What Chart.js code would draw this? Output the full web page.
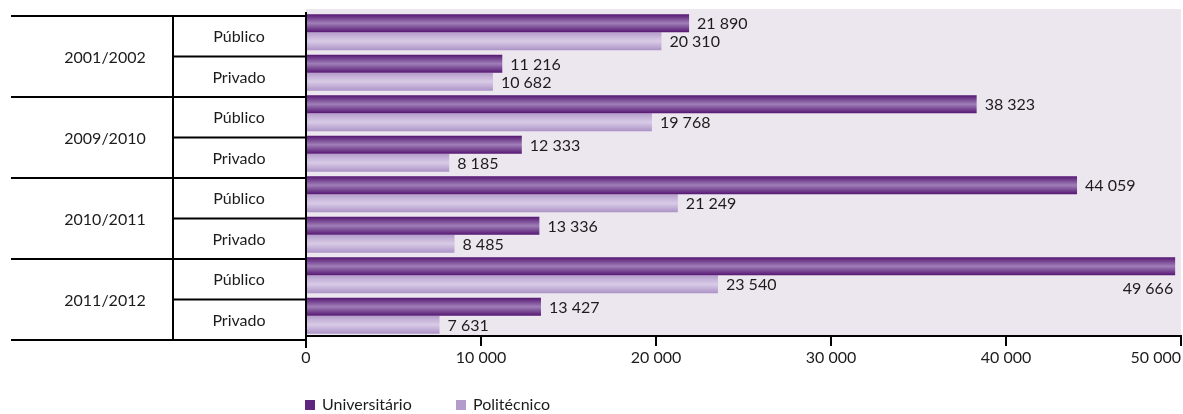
<!DOCTYPE html>
<html>
<head>
<meta charset="utf-8">
<script src="https://cdn.jsdelivr.net/npm/chart.js@4"></script>
<style>
	html, body { margin: 0; padding: 0; background: #fff; }
	#wrap { width: 1183px; height: 414px; }
</style>
</head>
<body>
<div id="wrap"><canvas id="chart" width="1183" height="414"></canvas></div>
<script>
const anos = ['2001/2002', '2009/2010', '2010/2011', '2011/2012'];
const setores = ['Público', 'Privado'];
const universitario = [21890, 11216, 38323, 12333, 44059, 13336, 49666, 13427];
const politecnico = [20310, 10682, 19768, 8185, 21249, 8485, 23540, 7631];
const xTicks = [0, 10000, 20000, 30000, 40000, 50000];
const seriesNames = ['Universitário', 'Politécnico'];

const categorias = anos.flatMap((a) => setores.map((s) => `${a} ${s}`));
const FONT = '16px Lato';
const TXT = '#1c1c1c';
const CAT_PCT = 0.89;

const darkStops = ['#561672', '#7a4b95', '#a07fb8', '#7a4b95', '#561672'];
const lightStops = ['#b39cca', '#c8b5da', '#d8cbe6', '#c3afd7', '#ab93c5'];

function fmt(v) {
	return String(v).replace(/\B(?=(\d{3})+(?!\d))/g, ' ');
}

function barGradient(stops, solid) {
	return (c) => {
		const chart = c.chart;
		const yScale = chart.scales.y;
		if (c.type !== 'data' || !yScale) return solid;
		const center = yScale.getPixelForValue(c.dataIndex);
		const band = ((yScale.bottom - yScale.top) / categorias.length) * CAT_PCT / 2;
		if (!Number.isFinite(center) || !Number.isFinite(band) || band <= 0) return solid;
		const top = c.datasetIndex === 0 ? center - band : center;
		const g = chart.ctx.createLinearGradient(0, top, 0, top + band);
		stops.forEach((col, i) => g.addColorStop(i / (stops.length - 1), col));
		return g;
	};
}

function line(ctx, x1, y1, x2, y2) {
	ctx.beginPath();
	ctx.moveTo(x1, y1);
	ctx.lineTo(x2, y2);
	ctx.stroke();
}

const tabela = {
	id: 'tabela',
	beforeDraw(chart) {
		const { ctx, chartArea: a } = chart;
		ctx.save();
		ctx.fillStyle = '#ece6ef';
		ctx.fillRect(a.left, a.top - 3, a.right - a.left, a.bottom - a.top + 3);
		ctx.restore();
	},
	afterDatasetsDraw(chart) {
		const { ctx, chartArea: a } = chart;
		ctx.save();
		ctx.font = FONT;
		ctx.fillStyle = TXT;
		ctx.textBaseline = 'middle';
		chart.data.datasets.forEach((ds, di) => {
			chart.getDatasetMeta(di).data.forEach((bar, i) => {
				const txt = fmt(ds.data[i]);
				const w = ctx.measureText(txt).width;
				if (bar.x + 8 + w > a.right) {
					ctx.textAlign = 'right';
					ctx.fillText(txt, bar.x - 2, bar.y + bar.height / 2 + 14);
				} else {
					ctx.textAlign = 'left';
					ctx.fillText(txt, bar.x + 8, bar.y + 1);
				}
			});
		});
		ctx.restore();
	},
	afterDraw(chart) {
		const { ctx, chartArea: a } = chart;
		const yScale = chart.scales.y;
		const xScale = chart.scales.x;
		const step = (yScale.bottom - yScale.top) / categorias.length;
		const edge = (k) => yScale.top + k * step + 4;

		ctx.save();
		ctx.strokeStyle = '#000';
		ctx.lineWidth = 2;
		// linhas da tabela
		for (let k = 0; k <= categorias.length; k++) {
			line(ctx, k % 2 === 0 ? 11 : 173, edge(k), a.left, edge(k));
		}
		line(ctx, 173, edge(0), 173, edge(categorias.length));
		line(ctx, a.left, a.top, a.left, a.bottom + 12);

		// textos da tabela
		ctx.font = FONT;
		ctx.fillStyle = TXT;
		ctx.textAlign = 'center';
		ctx.textBaseline = 'middle';
		anos.forEach((ano, g) => {
			ctx.fillText(ano, 105, edge(2 * g + 1) + 1);
			setores.forEach((s, j) => {
				const k = 2 * g + j;
				ctx.fillText(s, 239, (edge(k) + edge(k + 1)) / 2 + 1);
			});
		});

		// rótulos do eixo x
		xTicks.forEach((v) => {
			const txt = fmt(v);
			const w = ctx.measureText(txt).width;
			let x = xScale.getPixelForValue(v);
			if (x + w / 2 > a.right) x = a.right - w / 2;
			ctx.fillText(txt, x, a.bottom + 22);
		});

		// legenda
		const legX = [305, 456];
		ctx.textAlign = 'left';
		chart.data.datasets.forEach((ds, i) => {
			ctx.fillStyle = ds.legendColor;
			ctx.fillRect(legX[i], 400, 10, 10);
			ctx.fillStyle = TXT;
			ctx.fillText(ds.label, legX[i] + 17, 405);
		});
		ctx.restore();
	},
};

new Chart(document.getElementById('chart'), {
	type: 'bar',
	data: {
		labels: categorias,
		datasets: [
			{
				label: seriesNames[0],
				data: universitario,
				backgroundColor: barGradient(darkStops, '#5f2680'),
				legendColor: '#5f2680',
				categoryPercentage: CAT_PCT,
				barPercentage: 1,
			},
			{
				label: seriesNames[1],
				data: politecnico,
				backgroundColor: barGradient(lightStops, '#b39ccb'),
				legendColor: '#b39ccb',
				categoryPercentage: CAT_PCT,
				barPercentage: 1,
			},
		],
	},
	options: {
		indexAxis: 'y',
		responsive: false,
		animation: false,
		devicePixelRatio: 1,
		layout: { padding: { top: 12, left: 306, right: 2, bottom: 0 } },
		scales: {
			x: {
				min: 0,
				max: 50000,
				ticks: { display: false, stepSize: 10000 },
				grid: { drawOnChartArea: false, drawTicks: true, tickLength: 10, color: '#000', lineWidth: 2 },
				border: { display: true, color: '#000', width: 2 },
				afterFit(s) {
					s.height = 78;
					s.paddingLeft = 0;
					s.paddingRight = 0;
				},
			},
			y: { display: false },
		},
		plugins: {
			legend: { display: false },
			tooltip: { enabled: false },
		},
	},
	plugins: [tabela],
});
</script>
</body>
</html>
